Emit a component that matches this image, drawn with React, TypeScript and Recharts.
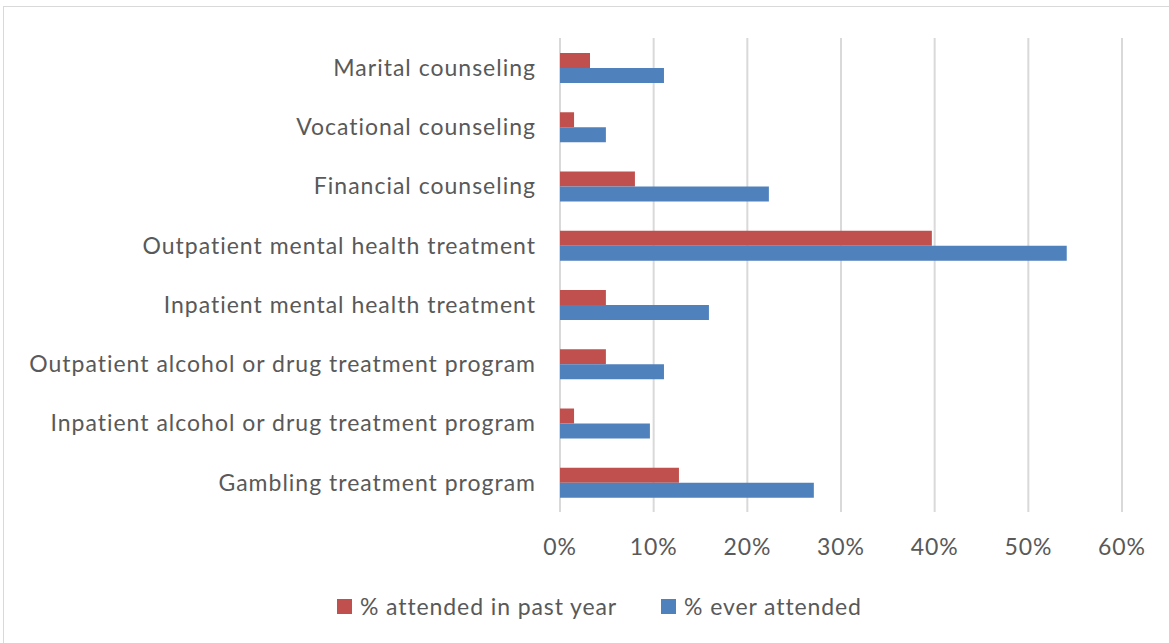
import { BarChart, Bar, XAxis, YAxis, CartesianGrid, Legend } from 'recharts'

const categories = [
  'Marital counseling',
  'Vocational counseling',
  'Financial counseling',
  'Outpatient mental health treatment',
  'Inpatient mental health treatment',
  'Outpatient alcohol or drug treatment program',
  'Inpatient alcohol or drug treatment program',
  'Gambling treatment program',
]
const pastYear = [3.2, 1.5, 8.0, 39.7, 4.9, 4.9, 1.5, 12.7]
const everAttended = [11.1, 4.9, 22.3, 54.1, 15.9, 11.1, 9.6, 27.1]
const xTicks = [0, 10, 20, 30, 40, 50, 60]

const RED = '#C0504D'
const BLUE = '#4F81BD'
const TEXT = '#595959'
const FONT = 'Lato, "Noto Sans", sans-serif'

const data = categories.map((name, i) => ({ name, past: pastYear[i], ever: everAttended[i] }))

function LegendBox() {
  const items = [
    { label: '% attended in past year', color: RED },
    { label: '% ever attended', color: BLUE },
  ]
  return (
    <div style={{ display: 'flex', height: 30, alignItems: 'center', paddingLeft: 337, fontFamily: FONT, fontSize: 23, letterSpacing: 0.9, color: TEXT }}>
      {items.map(it => (
        <div key={it.label} style={{ display: 'flex', alignItems: 'center', marginRight: 44 }}>
          <span style={{ width: 15, height: 15, background: it.color, marginRight: 8, display: 'inline-block' }} />
          <span>{it.label}</span>
        </div>
      ))}
    </div>
  )
}

export default function App() {
  return (
    <div style={{ position: 'fixed', left: 0, top: 0, width: 1169, height: 643, background: '#fff', overflow: 'hidden' }}>
      <div style={{ position: 'absolute', left: 3, top: 6, width: 1200, height: 700, border: '1px solid #d9d9d9' }} />
      <div style={{ position: 'absolute', left: 0, top: 0 }}>
        <BarChart
          width={1169}
          height={643}
          data={data}
          layout="vertical"
          margin={{ top: 38, right: 47, left: 0, bottom: 22 }}
          barGap={0}
        >
          <CartesianGrid horizontal={false} stroke="#d9d9d9" strokeWidth={2} />
          <XAxis
            type="number"
            domain={[0, 60]}
            ticks={xTicks}
            tickFormatter={v => `${v}%`}
            axisLine={false}
            tickLine={false}
            tickSize={0}
            tickMargin={27}
            height={79}
            tick={{ fill: TEXT, fontSize: 23, fontFamily: FONT, letterSpacing: 0.9 }}
          />
          <YAxis
            type="category"
            dataKey="name"
            width={560}
            axisLine={false}
            tickLine={false}
            tickSize={0}
            tickMargin={24}
            interval={0}
            tick={{ fill: TEXT, fontSize: 23, fontFamily: FONT, letterSpacing: 1 }}
          />
          <Legend verticalAlign="bottom" content={<LegendBox />} />
          <Bar dataKey="past" name="% attended in past year" fill={RED} barSize={15} isAnimationActive={false} />
          <Bar dataKey="ever" name="% ever attended" fill={BLUE} barSize={15} isAnimationActive={false} />
        </BarChart>
      </div>
    </div>
  )
}
